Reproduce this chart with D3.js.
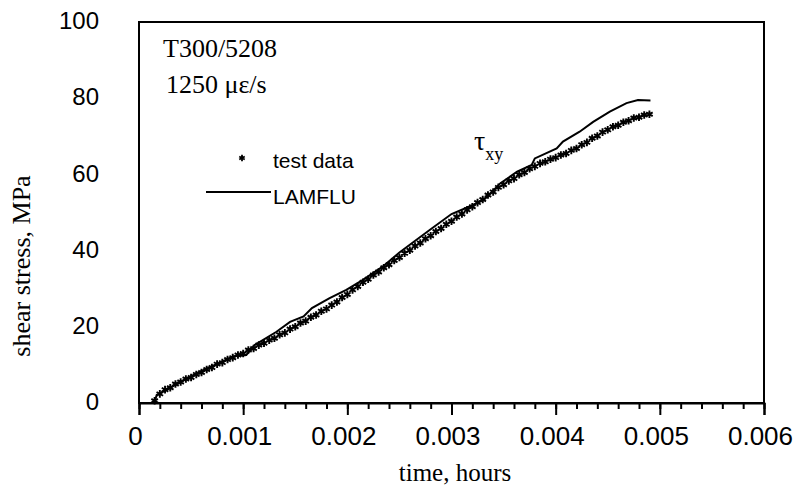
<!DOCTYPE html>
<html>
<head>
<meta charset="utf-8">
<script src="https://cdn.jsdelivr.net/npm/d3@7"></script>
<style>
  body { margin: 0; background: #fff; }
  .sans { font-family: Arial, "Liberation Sans", sans-serif; }
  .serif { font-family: "Times New Roman", "Liberation Serif", serif; }
</style>
</head>
<body>
<svg id="canvas" width="795" height="489"></svg>
<script>
'use strict';

/* test data: time (hours) and shear stress (MPa) */
const testTime = [
  0.00015, 0.00020, 0.00025, 0.00030, 0.00035, 0.00040, 0.00045, 0.00050,
  0.00055, 0.00060, 0.00065, 0.00070, 0.00075, 0.00080, 0.00085, 0.00090,
  0.00095, 0.00100, 0.00105, 0.00110, 0.00115, 0.00120, 0.00125, 0.00130,
  0.00135, 0.00140, 0.00145, 0.00150, 0.00155, 0.00160, 0.00165, 0.00170,
  0.00175, 0.00180, 0.00185, 0.00190, 0.00195, 0.00200, 0.00205, 0.00210,
  0.00215, 0.00220, 0.00225, 0.00230, 0.00235, 0.00240, 0.00245, 0.00250,
  0.00255, 0.00260, 0.00265, 0.00270, 0.00275, 0.00280, 0.00285, 0.00290,
  0.00295, 0.00300, 0.00305, 0.00310, 0.00315, 0.00320, 0.00325, 0.00330,
  0.00335, 0.00340, 0.00345, 0.00350, 0.00355, 0.00360, 0.00365, 0.00370,
  0.00375, 0.00380, 0.00385, 0.00390, 0.00395, 0.00400, 0.00405, 0.00410,
  0.00415, 0.00420, 0.00425, 0.00430, 0.00435, 0.00440, 0.00445, 0.00450,
  0.00455, 0.00460, 0.00465, 0.00470, 0.00475, 0.00480, 0.00485, 0.00490
];
const testStress = [
  0.6, 2.4, 3.5, 4.0, 5.0, 5.5, 6.3, 6.7,
  7.5, 8.0, 8.8, 9.3, 10.2, 10.6, 11.4, 11.9,
  12.6, 13.0, 13.9, 14.3, 15.2, 15.7, 16.5, 17.0,
  17.9, 18.4, 19.4, 20.0, 21.0, 21.5, 22.5, 23.1,
  24.1, 24.7, 25.7, 26.5, 27.7, 28.5, 29.7, 30.6,
  31.7, 32.5, 33.6, 34.4, 35.5, 36.3, 37.4, 38.2,
  39.3, 40.1, 41.2, 42.0, 43.1, 43.9, 45.0, 45.8,
  46.9, 47.7, 48.8, 49.6, 50.7, 51.5, 52.6, 53.4,
  54.6, 55.4, 56.6, 57.3, 58.3, 58.9, 59.9, 60.5,
  61.5, 62.1, 62.9, 63.3, 64.0, 64.4, 65.1, 65.5,
  66.3, 66.8, 67.8, 68.4, 69.5, 70.1, 71.1, 71.7,
  72.5, 72.9, 73.7, 74.1, 74.8, 75.0, 75.6, 75.8
];

/* LAMFLU prediction */
const lamfluTime = [
  0.00015, 0.00017, 0.00055, 0.00091, 0.00103, 0.00111, 0.00132, 0.00145,
  0.00158, 0.00166, 0.00183, 0.00199, 0.00215, 0.00235, 0.00250, 0.00280,
  0.00300, 0.00315, 0.00331, 0.00347, 0.00363, 0.00377, 0.00380, 0.00401,
  0.00407, 0.00423, 0.00436, 0.00452, 0.00468, 0.00479, 0.00491
];
const lamfluStress = [
  0.3, 2.1, 7.8, 12.3, 12.6, 15.2, 18.7, 21.3,
  22.7, 24.9, 27.5, 29.7, 32.3, 36.0, 39.5, 45.6,
  49.6, 51.3, 53.3, 57.7, 60.7, 62.5, 64.2, 66.8,
  68.6, 71.2, 73.8, 76.5, 78.7, 79.5, 79.4
];

/* axis ticks */
const xMajor = [0, 0.001, 0.002, 0.003, 0.004, 0.005, 0.006];
const xMinor = d3.range(0, 31).map(function(i){ return i * 0.0002; });
const yTicks = [0, 20, 40, 60, 80, 100];

/* plot area */
const plotLeft = 139, plotRight = 764, plotTop = 22, plotBottom = 403;

let svg = d3.select('svg#canvas');

let x = d3.scaleLinear().domain([0, 0.006]).range([plotLeft, plotRight]);
let y = d3.scaleLinear().domain([0, 100]).range([plotBottom, plotTop]);

/* frame */
svg.append('rect')
  .attr('x', plotLeft)
  .attr('y', plotTop)
  .attr('width', plotRight - plotLeft)
  .attr('height', plotBottom - plotTop)
  .style('fill', 'none')
  .style('stroke', 'black')
  .style('stroke-width', 2)
;

/* x axis with minor ticks */
svg.append('g')
  .attr('transform', 'translate(0,' + plotBottom + ')')
  .call(d3.axisBottom(x).tickValues(xMinor).tickSize(6).tickFormat(''))
  .call(function(g){ g.select('.domain').remove(); })
  .selectAll('line').style('stroke-width', 2)
;
svg.append('g')
  .attr('transform', 'translate(0,' + plotBottom + ')')
  .call(d3.axisBottom(x).tickValues(xMajor).tickSize(12).tickPadding(12)
    .tickFormat(function(d){ return d === 0 ? '0' : d3.format('.3f')(d); }))
  .call(function(g){
    g.select('.domain').style('stroke-width', 2);
    g.selectAll('line').style('stroke-width', 2);
    g.selectAll('text')
      .attr('class', 'sans')
      .attr('dx', -4)
      .style('font-size', '26px')
      .style('fill', 'black');
  })
;

/* y axis labels only */
svg.append('g')
  .attr('transform', 'translate(' + plotLeft + ',0)')
  .call(d3.axisLeft(y).tickValues(yTicks).tickSize(0).tickPadding(40))
  .call(function(g){
    g.select('.domain').remove();
    g.selectAll('text')
      .attr('class', 'sans')
      .attr('dy', '0.28em')
      .style('font-size', '24px')
      .style('fill', 'black');
  })
;

/* axis titles */
svg.append('text')
  .attr('class', 'serif')
  .attr('x', 455)
  .attr('y', 481)
  .attr('text-anchor', 'middle')
  .style('font-size', '25px')
  .text('time, hours')
;
svg.append('text')
  .attr('class', 'serif')
  .attr('transform', 'translate(30,266) rotate(-90)')
  .attr('text-anchor', 'middle')
  .style('font-size', '26px')
  .text('shear stress, MPa')
;

/* LAMFLU line */
let lamflu = lamfluTime.map(function(t, i){ return { t: t, s: lamfluStress[i] }; });
svg.append('path')
  .datum(lamflu)
  .attr('d', d3.line()
    .x(function(d){ return x(d.t); })
    .y(function(d){ return y(d.s); }))
  .style('fill', 'none')
  .style('stroke', 'black')
  .style('stroke-width', 2)
;

/* test data markers */
let marker = d3.symbol().type(d3.symbolAsterisk).size(40);
let test = testTime.map(function(t, i){ return { t: t, s: testStress[i] }; });
svg.append('g')
  .selectAll('path')
  .data(test)
  .enter().append('path')
  .attr('transform', function(d){ return 'translate(' + x(d.t) + ',' + y(d.s) + ')'; })
  .attr('d', marker)
  .style('fill', 'none')
  .style('stroke', 'black')
  .style('stroke-width', 1.9)
;

/* annotations */
svg.append('text')
  .attr('class', 'serif')
  .attr('x', 163)
  .attr('y', 57)
  .style('font-size', '26px')
  .text('T300/5208')
;
svg.append('text')
  .attr('class', 'serif')
  .attr('x', 166)
  .attr('y', 93)
  .style('font-size', '26px')
  .text('1250 με/s')
;
let tau = svg.append('text')
  .attr('class', 'serif')
  .attr('x', 474)
  .attr('y', 150)
  .style('font-size', '28px')
  .text('τ')
;
tau.append('tspan')
  .attr('dy', 10)
  .style('font-size', '18px')
  .text('xy')
;

/* legend */
svg.append('path')
  .attr('transform', 'translate(242,158)')
  .attr('d', d3.symbol().type(d3.symbolAsterisk).size(28))
  .style('fill', 'none')
  .style('stroke', 'black')
  .style('stroke-width', 1.8)
;
svg.append('text')
  .attr('class', 'sans')
  .attr('x', 273)
  .attr('y', 168)
  .style('font-size', '21px')
  .text('test data')
;
svg.append('line')
  .attr('x1', 206)
  .attr('x2', 271)
  .attr('y1', 192)
  .attr('y2', 192)
  .style('stroke', 'black')
  .style('stroke-width', 2)
;
svg.append('text')
  .attr('class', 'sans')
  .attr('x', 273)
  .attr('y', 204)
  .style('font-size', '21px')
  .text('LAMFLU')
;
</script>
</body>
</html>
